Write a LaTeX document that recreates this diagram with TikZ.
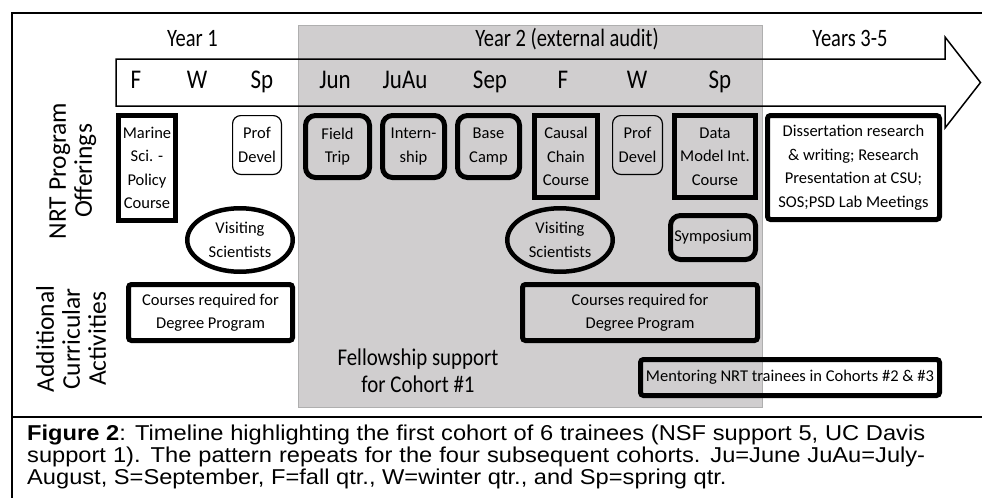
\documentclass[tikz,border=0pt]{standalone}
\usepackage{fontspec}
\setmainfont{Carlito}
\newfontfamily\hdrfont[FakeStretch=0.82]{Carlito}
\newfontfamily\monfont[FakeStretch=0.85]{Carlito}
\newfontfamily\felfont[FakeStretch=0.87]{Carlito}
\newfontfamily\capfont[FakeStretch=1.1]{Liberation Sans}
\usetikzlibrary{shapes.geometric}
\definecolor{yeargray}{RGB}{208,206,207}
\definecolor{yearedge}{RGB}{175,175,175}
\begin{document}
\begin{tikzpicture}[x=1pt,y=-1pt,
  boxtext/.style={inner sep=0pt, align=center, font=\fontsize{16.5}{23.5}\selectfont},
  sharpbox/.style={boxtext, draw, line width=5pt},
  roundbox/.style={sharpbox, rounded corners=10pt},
  softbox/.style={sharpbox, rounded corners=3pt},
  thinbox/.style={boxtext, draw, line width=1.2pt, rounded corners=8pt},
  oval/.style={boxtext, ellipse, draw, line width=4.5pt},
  yearlabel/.style={anchor=base, inner sep=0pt, font=\hdrfont\fontsize{25}{30}\selectfont},
  monthlabel/.style={anchor=base, inner sep=0pt, font=\monfont\fontsize{27}{30}\selectfont},
  sidelabel/.style={rotate=90, align=center, inner sep=0pt, font=\fontsize{25.5}{26}\selectfont},
  fellabel/.style={align=center, inner sep=0pt, font=\felfont\fontsize{24}{27}\selectfont},
  captext/.style={anchor=base west, inner sep=0pt, font=\capfont\fontsize{21.5}{22}\selectfont},
  frameline/.style={line width=2.5pt},
  arrowline/.style={line width=1.5pt, line join=miter}
]
\useasboundingbox (0,0) rectangle (982,498);
% Year 2 band
\path[fill=yeargray, draw=yearedge, line width=0.8pt] (298,25) rectangle (762,407);
% timeline arrow
\draw[arrowline] (116,59) -- (945,59) -- (945,37) -- (980.5,82.5) -- (945,128) -- (945,106) -- (116,106) -- cycle;
% frame
\draw[frameline] (982,13) -- (12,13) -- (12,498);
\draw[frameline] (12,417) -- (982,417);

% year labels
\node[yearlabel] (y1) at (192.5,46) {Year 1};
\node[yearlabel] (y2) at (567,46) {Year 2 (external audit)};
\node[yearlabel] (y3) at (850,46) {Years 3-5};
% month labels
\node[monthlabel] (m1) at (136,88) {F};
\node[monthlabel] (m2) at (197,88) {W};
\node[monthlabel] (m3) at (262,88) {Sp};
\node[monthlabel] (m4) at (335,88) {Jun};
\node[monthlabel] (m5) at (405,88) {JuAu};
\node[monthlabel] (m6) at (490,88) {Sep};
\node[monthlabel] (m7) at (563,88) {F};
\node[monthlabel] (m8) at (637,88) {W};
\node[monthlabel] (m9) at (720,88) {Sp};

% side labels
\node[sidelabel] (nrt) at (73,171) {NRT Program\\Offerings};
\node[sidelabel] (acad) at (71,339) {Additional\\Curricular\\Activities};

% offerings
\node[sharpbox, minimum width=57pt, minimum height=105pt] (marine) at (147,168) {Marine\\Sci. -\\Policy\\Course};
\node[thinbox, minimum width=48.8pt, minimum height=58.8pt] (prof1) at (257,145) {Prof\\Devel};
\node[roundbox, minimum width=64pt, minimum height=62pt] (field) at (337.5,146.5) {Field\\Trip};
\node[roundbox, minimum width=62pt, minimum height=62pt] (intern) at (413.5,146.5) {Intern-\\ship};
\node[roundbox, minimum width=62pt, minimum height=62pt] (base) at (488.5,146.5) {Base\\Camp};
\node[sharpbox, minimum width=63pt, minimum height=82pt] (causal) at (566,156.5) {Causal\\Chain\\Course};
\node[thinbox, minimum width=49.8pt, minimum height=58.8pt] (prof2) at (637.5,145) {Prof\\Devel};
\node[sharpbox, minimum width=81pt, minimum height=82pt] (data) at (715,156.5) {Data\\Model Int.\\Course};
\node[softbox, fill=white, minimum width=172pt, minimum height=104pt] (diss) at (853.5,167.5) {Dissertation research\\\& writing; Research\\Presentation at CSU;\\SOS;PSD Lab Meetings};
\node[oval, minimum width=105.5pt, minimum height=63.5pt] (vis1) at (240,240) {Visiting\\Scientists};
\node[oval, minimum width=105.5pt, minimum height=63.5pt] (vis2) at (560,240) {Visiting\\Scientists};
\node[roundbox, minimum width=85pt, minimum height=44pt] (symp) at (713,237.5) {Symposium};

% additional curricular activities
\node[softbox, minimum width=164pt, minimum height=56pt] (courses1) at (210.5,312.5) {Courses required for\\Degree Program};
\node[softbox, minimum width=235pt, minimum height=56pt] (courses2) at (640,312.5) {Courses required for\\Degree Program};
\node[softbox, minimum width=299pt, minimum height=36pt] (mentor) at (790,377.5) {Mentoring NRT trainees in Cohorts \#2 \& \#3};
\node[fellabel] (fellow) at (418,371) {Fellowship support\\for Cohort \#1};

% caption
\node[captext] (cap1) at (27,440) {\makebox[898pt][s]{\textbf{Figure 2}: Timeline highlighting the first cohort of 6 trainees (NSF support 5, UC Davis}};
\node[captext] (cap2) at (27,462) {\makebox[898pt][s]{support 1). The pattern repeats for the four subsequent cohorts. Ju=June JuAu=July-}};
\node[captext] (cap3) at (27,484) {August, S=September, F=fall qtr., W=winter qtr., and Sp=spring qtr.};
\end{tikzpicture}
\end{document}
